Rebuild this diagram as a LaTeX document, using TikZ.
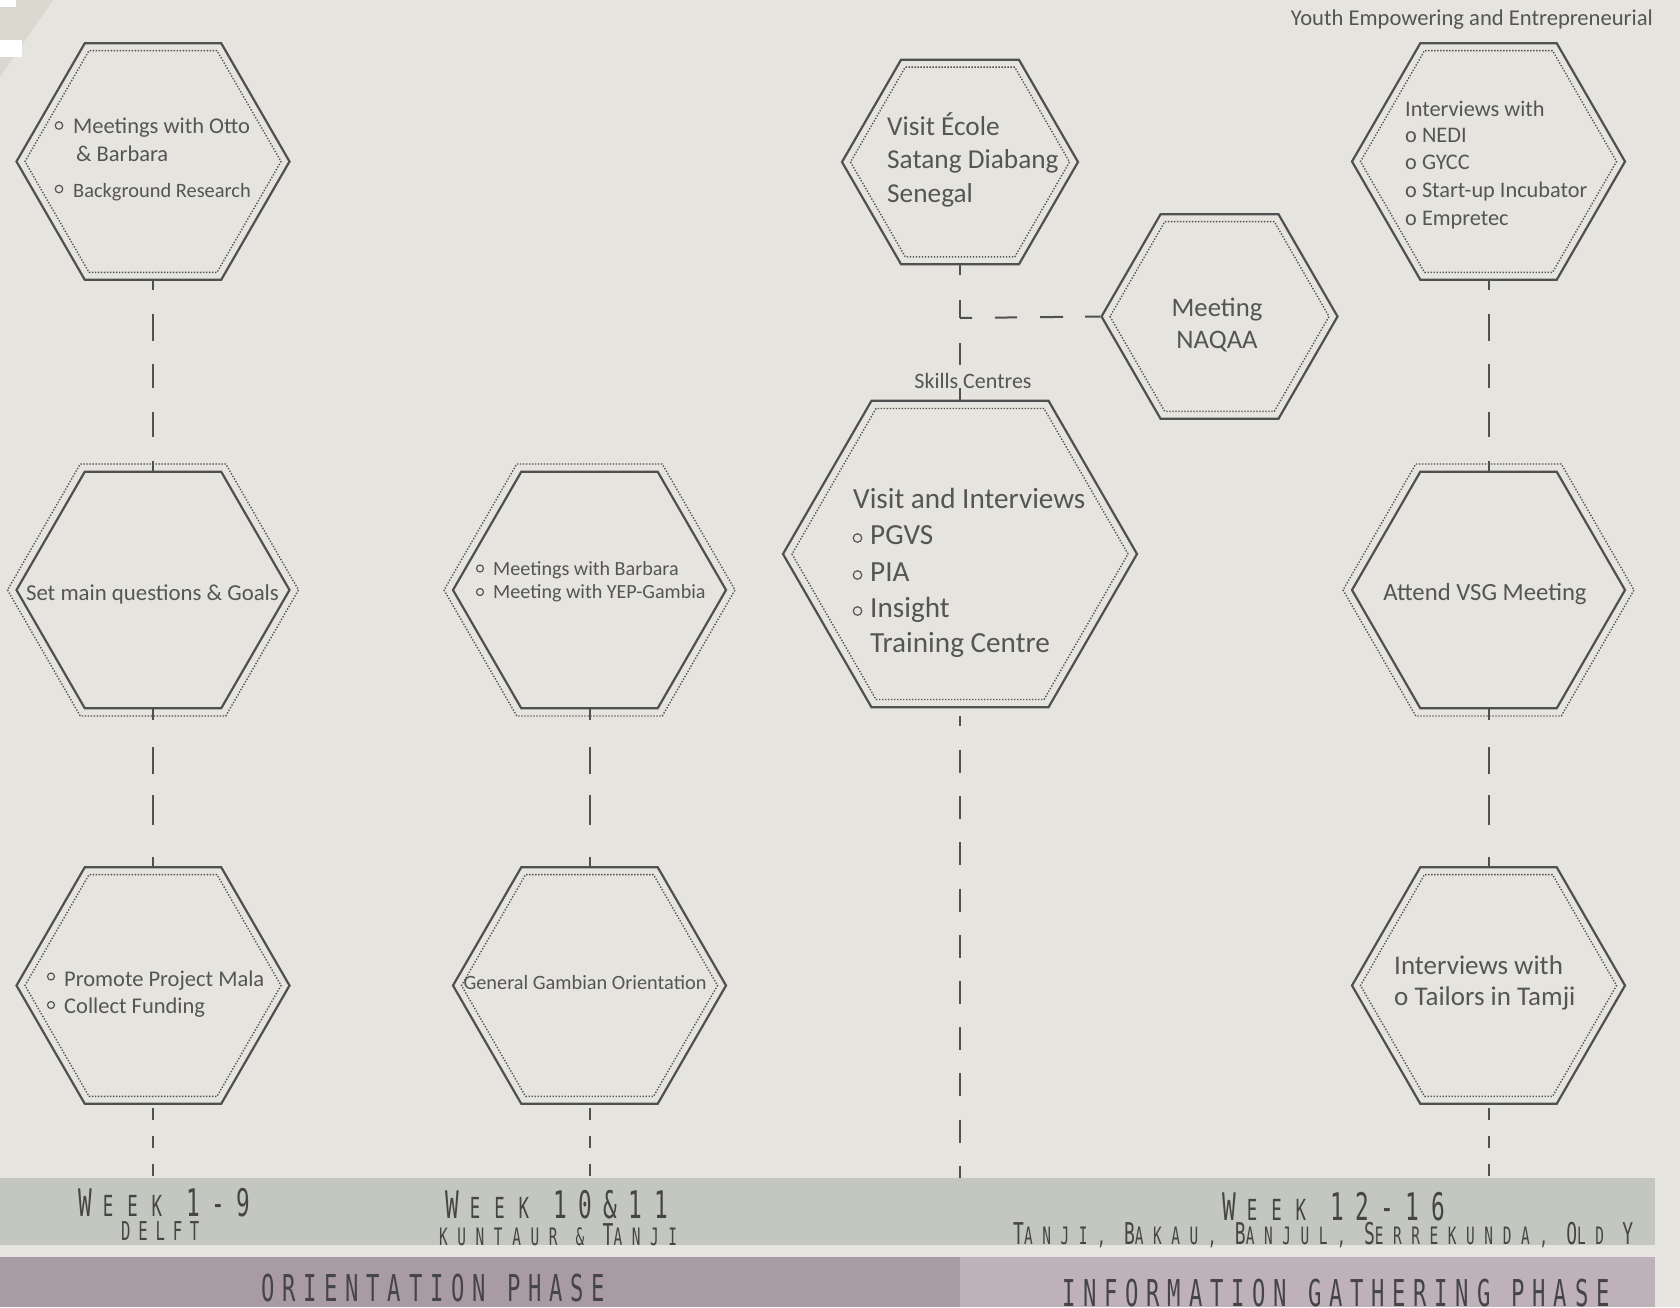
\documentclass[tikz,border=0pt]{standalone}
\usepackage{fontspec}
\setmainfont{Carlito}
\newfontfamily\bandfont[FakeStretch=0.6,LetterSpace=30]{DejaVu Sans Mono}
\usetikzlibrary{shapes.geometric}
\definecolor{bg}{HTML}{E6E4DE}
\definecolor{bgdark}{HTML}{DAD7CF}
\definecolor{bandgreen}{HTML}{C3C7C0}
\definecolor{purpleA}{HTML}{A99BA3}
\definecolor{purpleB}{HTML}{BEB1B9}
\definecolor{linec}{HTML}{505050}
\definecolor{txtc}{HTML}{555555}
\definecolor{bandtxt}{HTML}{454545}
\newcommand\fsz[1]{\fontsize{#1}{#1}\selectfont}
\newcommand\Bg{\fontsize{38}{40}\selectfont}
\newcommand\Sm{\fontsize{29}{30}\selectfont}
\newcommand\Pb{\fontsize{30}{30}\selectfont}
\newcommand\Ps{\fontsize{24}{24}\selectfont}
\newcommand\Wk{{\Bg W}\kern 11pt{\Sm\addfontfeature{LetterSpace=48}EEK }}
\begin{document}
\begin{tikzpicture}[x=1pt,y=-1pt,
  hexsolid/.style={regular polygon, regular polygon sides=6, draw=linec, line width=2.2pt, inner sep=0pt, minimum size=#1},
  hexdot/.style={regular polygon, regular polygon sides=6, draw=linec, line width=1.4pt, dash pattern=on 1.3pt off 1.7pt, inner sep=0pt, minimum size=#1},
  conn/.style={draw=linec, line width=2pt},
  htxt/.style={text=txtc, inner sep=0pt, anchor=base west},
  bul/.style={circle, draw=txtc, line width=1.2pt, inner sep=0pt, minimum size=#1},
  btxt/.style={text=bandtxt, inner sep=0pt, anchor=base west},
  bandrect/.style={inner sep=0pt, anchor=north west, draw=none},
  rowAB/.style={conn, dash pattern=on 9pt off 24pt on 27pt off 23pt on 24pt off 24pt on 25pt off 24pt on 30pt off 10pt},
  rowBC/.style={conn, dash pattern=on 11pt off 27pt on 27pt off 21pt on 30pt off 32pt on 20pt off 10pt},
  rowCD/.style={conn, dash pattern=on 12pt off 16pt, dash phase=25pt}
]
\useasboundingbox (0,0) rectangle (1680,1307);
% background
\fill[bg] (0,0) rectangle (1680,1307);
\fill[bgdark] (0,0) -- (53,0) -- (0,77) -- cycle;
\fill[white] (0,0) rectangle (16,7);
\fill[white] (0,40) rectangle (22,57);

% bands
\node[bandrect, fill=bandgreen, minimum width=1655pt, minimum height=67pt] (band) at (0,1178) {};
\node[bandrect, fill=purpleA, minimum width=960pt, minimum height=50pt] (phaseA) at (0,1257) {};
\node[bandrect, fill=purpleB, minimum width=695pt, minimum height=50pt] (phaseB) at (960,1257) {};

% hexagons
\node[hexsolid=273pt] (h1) at (153,161.5) {};
\node[hexdot=256pt] (h1d) at (153,161.5) {};
\node[hexsolid=273pt] (h2) at (153,590) {};
\node[hexdot=291pt] (h2d) at (153,590) {};
\node[hexsolid=273pt] (h3) at (153,985.5) {};
\node[hexdot=256pt] (h3d) at (153,985.5) {};
\node[hexsolid=273pt] (h4) at (589.5,590) {};
\node[hexdot=291pt] (h4d) at (589.5,590) {};
\node[hexsolid=273pt] (h5) at (589.5,985.5) {};
\node[hexdot=256pt] (h5d) at (589.5,985.5) {};
\node[hexsolid=236pt] (h6) at (960,162) {};
\node[hexdot=219pt] (h6d) at (960,162) {};
\node[hexsolid=236pt] (h7) at (1219.5,316.5) {};
\node[hexdot=219pt] (h7d) at (1219.5,316.5) {};
\node[hexsolid=354pt] (h8) at (960,554) {};
\node[hexdot=336pt] (h8d) at (960,554) {};
\node[hexsolid=273pt] (h9) at (1488.5,161.5) {};
\node[hexdot=256pt] (h9d) at (1488.5,161.5) {};
\node[hexsolid=273pt] (h10) at (1488.5,590) {};
\node[hexdot=291pt] (h10d) at (1488.5,590) {};
\node[hexsolid=273pt] (h11) at (1488.5,985.5) {};
\node[hexdot=256pt] (h11d) at (1488.5,985.5) {};

% connectors
\draw[rowAB] (h1.south) -- (h2.north);
\draw[rowBC] (h2.south) -- (h3.north);
\draw[rowCD] (h3.south) -- (h3.south |- band.north);
\draw[rowBC] (h4.south) -- (h5.north);
\draw[rowCD] (h5.south) -- (h5.south |- band.north);
\draw[rowAB] (h9.south) -- (h10.north);
\draw[rowBC] (h10.south) -- (h11.north);
\draw[rowCD] (h11.south) -- (h11.south |- band.north);
\draw[conn, dash pattern=on 10pt off 25pt on 18pt off 25pt on 22pt off 23pt on 15pt off 5pt] (h6.south) -- (h8.north);
\coordinate (j) at (960,318);
\draw[conn, dash pattern=on 12pt off 23pt on 22pt off 23pt on 23pt off 22pt on 20pt off 5pt] (j) -- (h7.west);
\draw[conn, dash pattern=on 10pt off 23.5pt on 23pt off 23.2pt on 23pt off 23.2pt on 23pt off 23.2pt on 23pt off 23.2pt on 23pt off 23.2pt on 23pt off 23.2pt on 23pt off 23.2pt on 23pt off 23.2pt on 23pt off 23.2pt on 12pt off 8pt, dash phase=461.3pt] (h8.south) -- (h8.south |- band.north);
\node[text=txtc, inner sep=0pt, anchor=base, font=\fsz{22}] (sk) at (973,388) {Skills Centres};

% top right
\node[text=txtc, inner sep=0pt, anchor=base east, font=\fsz{22.6}] (yep) at (1653,25) {Youth Empowering and Entrepreneurial};

% H1 text
\node[bul=7.5pt] (b1a) at (59,125.5) {};
\node[htxt, font=\fsz{22.5}] (t1a) at (73,133) {Meetings with Otto};
\node[htxt, font=\fsz{22.5}] (t1b) at (76,161) {\& Barbara};
\node[bul=7.5pt] (b1c) at (59,189) {};
\node[htxt, font=\fsz{20.4}] (t1c) at (73,197) {Background Research};
% H2
\node[text=txtc, inner sep=0pt, anchor=base, font=\fsz{22.8}] (t2) at (152.5,600) {Set main questions \& Goals};
% H3
\node[bul=7pt] (b3a) at (51,976.5) {};
\node[htxt, font=\fsz{22.5}] (t3a) at (64,986) {Promote Project Mala};
\node[bul=7pt] (b3b) at (51,1005) {};
\node[htxt, font=\fsz{22.5}] (t3b) at (64,1013) {Collect Funding};
% H4
\node[bul=7pt] (b4a) at (480,568.5) {};
\node[htxt, font=\fsz{20.1}] (t4a) at (493,575) {Meetings with Barbara};
\node[bul=7pt] (b4b) at (480,592) {};
\node[htxt, font=\fsz{20.1}] (t4b) at (493,598) {Meeting with YEP-Gambia};
% H5
\node[text=txtc, inner sep=0pt, anchor=base, font=\fsz{20.3}] (t5) at (585,989) {General Gambian Orientation};
% H6
\node[htxt, font=\fsz{27.3}] (t6a) at (887,135) {Visit École};
\node[htxt, font=\fsz{27.3}] (t6b) at (887,168) {Satang Diabang};
\node[htxt, font=\fsz{27.3}] (t6c) at (887,202) {Senegal};
% H7
\node[text=txtc, inner sep=0pt, anchor=base, font=\fsz{26.7}] (t7a) at (1217,316) {Meeting};
\node[text=txtc, inner sep=0pt, anchor=base, font=\fsz{26.7}] (t7b) at (1217,348) {NAQAA};
% H8
\node[htxt, font=\fsz{29.2}] (t8a) at (853,508) {Visit and Interviews};
\node[bul=8.5pt] (b8b) at (857.5,538) {};
\node[htxt, font=\fsz{29.2}] (t8b) at (870,544) {PGVS};
\node[bul=8.5pt] (b8c) at (857.5,575) {};
\node[htxt, font=\fsz{29.2}] (t8c) at (870,581) {PIA};
\node[bul=8.5pt] (b8d) at (857.5,611) {};
\node[htxt, font=\fsz{29.2}] (t8d) at (870,617) {Insight};
\node[htxt, font=\fsz{29.2}] (t8e) at (870,652) {Training Centre};
% H9
\node[htxt, font=\fsz{22.3}] (t9a) at (1405,116) {Interviews with};
\node[htxt, font=\fsz{22.3}] (t9b) at (1405,142) {o NEDI};
\node[htxt, font=\fsz{22.3}] (t9c) at (1405,169) {o GYCC};
\node[htxt, font=\fsz{22.3}] (t9d) at (1405,197) {o Start-up Incubator};
\node[htxt, font=\fsz{22.3}] (t9e) at (1405,225) {o Empretec};
% H10
\node[text=txtc, inner sep=0pt, anchor=base, font=\fsz{24.7}] (t10) at (1485,600) {Attend VSG Meeting};
% H11
\node[htxt, font=\fsz{27}] (t11a) at (1394,974) {Interviews with};
\node[htxt, font=\fsz{27}] (t11b) at (1394,1005) {o Tailors in Tamji};

% band texts
\begin{scope}
\clip (0,1178) rectangle (1655,1307);
\node[btxt, font=\bandfont] (w1) at (78,1216) {\Wk\Bg 1-9};
\node[btxt, font=\bandfont\fontsize{26}{26}\selectfont] (p1) at (121,1240) {DELFT};
\node[btxt, font=\bandfont] (w2) at (445,1218) {\Wk\Bg 10\&11};
\node[btxt, font=\bandfont\addfontfeature{LetterSpace=40}] (p2) at (439,1245) {\Ps KUNTAUR \& \Pb T\Ps ANJI};
\node[btxt, font=\bandfont] (w3) at (1222,1220) {\Wk\Bg 12-16};
\node[btxt, font=\bandfont\addfontfeature{LetterSpace=40}] (p3) at (1013,1244) {\Pb T\Ps ANJI, \Pb B\Ps AKAU, \Pb B\Ps ANJUL, \Pb S\Ps ERREKUNDA, \Pb O\Ps LD \Pb Y};
\node[btxt, font=\bandfont\addfontfeature{LetterSpace=21}\fontsize{37}{37}\selectfont] (ph1) at (261,1301) {ORIENTATION PHASE};
\node[btxt, font=\bandfont\addfontfeature{LetterSpace=21}\fontsize{37}{37}\selectfont] (ph2) at (1062,1306) {INFORMATION GATHERING PHASE};
\end{scope}
\end{tikzpicture}
\end{document}
